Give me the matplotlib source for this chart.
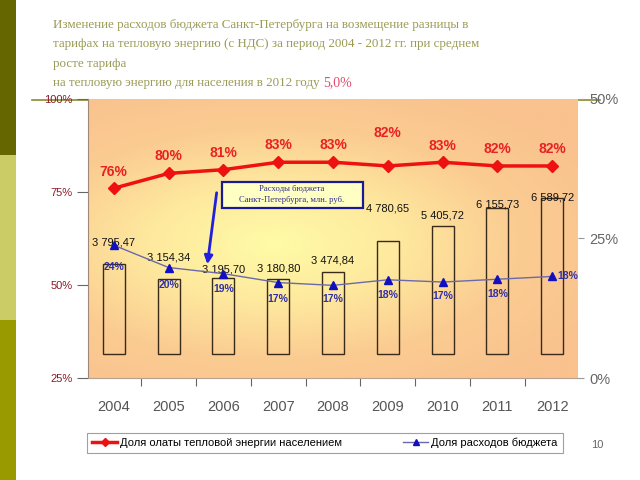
import numpy as np
import matplotlib
matplotlib.use("Agg")
import matplotlib.pyplot as plt
from matplotlib.lines import Line2D
from matplotlib.patches import Rectangle, FancyArrowPatch
from matplotlib.colors import LinearSegmentedColormap

years = ["2004", "2005", "2006", "2007", "2008", "2009", "2010", "2011", "2012"]
budget = [3795.47, 3154.34, 3195.70, 3180.80, 3474.84, 4780.65, 5405.72, 6155.73, 6589.72]
budget_labels = ["3 795,47", "3 154,34", "3 195,70", "3 180,80", "3 474,84",
                 "4 780,65", "5 405,72", "6 155,73", "6 589,72"]
pop_share = [76, 80, 81, 83, 83, 82, 83, 82, 82]
pop_labels = ["76%", "80%", "81%", "83%", "83%", "82%", "83%", "82%", "82%"]
budget_share = [23.8, 19.8, 18.7, 17.1, 16.6, 17.6, 17.2, 17.7, 18.2]
budget_share_labels = ["24%", "20%", "19%", "17%", "17%", "18%", "17%", "18%", "18%"]

left_ticks = [25, 50, 75, 100]
right_ticks = [0, 25, 50]

fig = plt.figure(figsize=(6.4, 4.8), dpi=100)
fig.patch.set_facecolor("white")

# Sidebar
fig.add_artist(Rectangle((0, 1 - 155 / 480), 16 / 640, 155 / 480, transform=fig.transFigure,
                         facecolor="#666600", edgecolor="none", zorder=-2))
fig.add_artist(Rectangle((0, 1 - 320 / 480), 16 / 640, 165 / 480, transform=fig.transFigure,
                         facecolor="#cccc66", edgecolor="none", zorder=-2))
fig.add_artist(Rectangle((0, 0), 16 / 640, 160 / 480, transform=fig.transFigure,
                         facecolor="#999900", edgecolor="none", zorder=-2))
# Slide line
fig.add_artist(Line2D([32 / 640, 600 / 640], [1 - 100 / 480, 1 - 100 / 480], transform=fig.transFigure,
                      color="#8c8c30", lw=1.2, zorder=-1))

# Title
serif = ["Liberation Serif", "DejaVu Serif"]
title_lines = [
    "Изменение расходов бюджета Санкт-Петербурга на возмещение разницы в",
    "тарифах на тепловую энергию (с НДС) за период 2004 - 2012 гг. при среднем",
    "росте тарифа",
]
tfs = 9.4
for i, t in enumerate(title_lines):
    fig.text(53 / 640, 1 - (25 + 19.3 * i) / 480, t, family=serif, fontsize=tfs,
             color="#9a9a55", ha="left", va="center")
t4 = fig.text(53 / 640, 1 - 83 / 480, "на тепловую энергию для населения в 2012 году ", family=serif,
              fontsize=tfs, color="#9a9a55", ha="left", va="center")
fig.canvas.draw()
bb = t4.get_window_extent()
fig.text(bb.x1 / 640, 1 - 83 / 480, "5,0%", family=serif, fontsize=tfs + 0.6, color="#e04a6a",
         ha="left", va="center")

pos = [88 / 640, 1 - 378 / 480, 490 / 640, 279 / 480]
x = np.arange(len(years))

# Background + bars axes
axb = fig.add_axes(pos, zorder=0)
ny, nx = 200, 300
yy, xx = np.mgrid[0:1:ny * 1j, 0:1:nx * 1j]
r = np.sqrt(((xx - 0.38) / 0.75) ** 2 + ((yy - 0.48) / 0.62) ** 2)
r = np.clip(r, 0, 1)
cmap = LinearSegmentedColormap.from_list("bg", ["#fffba6", "#fee99e", "#fbcc92", "#f9c28e"])
axb.imshow(r, cmap=cmap, extent=[0, 1, 0, 1], transform=axb.transAxes, aspect="auto",
           origin="lower", zorder=0, interpolation="bilinear")
axb.bar(x, budget, width=0.4, facecolor="none", edgecolor="#3a2a1a", lw=1.0, zorder=2)
axb.set_xlim(-0.47, 8.47)
axb.set_ylim(-1013, 10767)
axb.axis("off")
bar_offsets = [22, 22, 9, 10, 11, 32, 10, 4, 0]
for i, (v, lab) in enumerate(zip(budget, budget_labels)):
    axb.annotate(lab, (i, v), xytext=(0, bar_offsets[i]), textcoords="offset pixels",
                 ha="center", va="center", fontsize=8, color="#111111",
                 family=["Liberation Sans", "DejaVu Sans"], zorder=3)

# Left axis (red line)
axl = fig.add_axes(pos, zorder=1)
axl.patch.set_alpha(0)
axl.plot(x, pop_share, color="#ee1111", lw=2.5, marker="D", markersize=6,
         markerfacecolor="#ee1111", markeredgecolor="#ee1111", zorder=4,
         label="Доля олаты тепловой энергии населением")
axl.set_xlim(-0.47, 8.47)
axl.set_ylim(25, 100)
axl.set_yticks(left_ticks)
axl.set_yticklabels([f"{t}%" for t in left_ticks], color="#8b1a2a", fontsize=8,
                    family=["Liberation Sans", "DejaVu Sans"])
axl.tick_params(axis="y", direction="out", length=8, color="#666666", pad=3)
axl.set_xticks(x[:-1] + 0.5)
axl.set_xticklabels([])
axl.set_xticks(x, minor=True)
axl.set_xticklabels(years, minor=True, fontsize=10.5, color="#555555",
                    family=["Liberation Sans", "DejaVu Sans"])
axl.tick_params(axis="x", which="major", direction="out", length=6, color="#666666")
axl.tick_params(axis="x", which="minor", length=0, pad=16)
for s in ["top", "right"]:
    axl.spines[s].set_visible(False)
axl.spines["left"].set_color("#a08878")
axl.spines["bottom"].set_color("#b8a090")
red_offsets = [16, 17, 17, 17, 17, 33, 16, 17, 17]
for i, (v, lab) in enumerate(zip(pop_share, pop_labels)):
    axl.annotate(lab, (i, v), xytext=(0, red_offsets[i]), textcoords="offset pixels",
                 ha="center", va="center", fontsize=10, fontweight="bold", color="#e82222",
                 family=["Liberation Sans", "DejaVu Sans"], zorder=5)

# Right axis (blue line)
axr = axl.twinx()
axr.plot(x, budget_share, color="#6a6aaa", lw=1.0, marker="^", markersize=6,
         markerfacecolor="#1010c0", markeredgecolor="#1010c0", zorder=4,
         label="Доля расходов бюджета")
axr.set_ylim(0, 50)
axr.set_yticks(right_ticks)
axr.set_yticklabels([f"{t}%" for t in right_ticks], color="#666666", fontsize=10.5,
                    family=["Liberation Sans", "DejaVu Sans"])
axr.tick_params(axis="y", direction="out", length=4, color="#999999", pad=4)
for s in ["top", "right", "left", "bottom"]:
    axr.spines[s].set_visible(False)
blue_offsets = [(0, -22), (0, -17), (0, -15), (0, -16), (0, -14), (0, -15), (0, -14), (0, -15), (16, 0)]
for i, (v, lab) in enumerate(zip(budget_share, budget_share_labels)):
    dx, dy = blue_offsets[i]
    axr.annotate(lab, (i, v), xytext=(dx, dy), textcoords="offset pixels",
                 ha="center", va="center", fontsize=7.5, fontweight="bold", color="#3030a8",
                 family=["Liberation Sans", "DejaVu Sans"], zorder=5)

# Annotation box and arrow
fig.add_artist(Rectangle((222 / 640, 1 - 208 / 480), 141 / 640, 26 / 480, transform=fig.transFigure,
                         facecolor="#ffffc4", edgecolor="#1a1a99", lw=1.6, zorder=5))
fig.text(292 / 640, 1 - 189 / 480, "Расходы бюджета", family=serif, fontsize=6.2,
         color="#30308a", ha="center", va="center", zorder=6)
fig.text(292 / 640, 1 - 200 / 480, "Санкт-Петербурга, млн. руб.", family=serif, fontsize=6.2,
         color="#30308a", ha="center", va="center", zorder=6)
fig.add_artist(FancyArrowPatch((217 / 640, 1 - 190 / 480), (207 / 640, 1 - 267 / 480),
                               transform=fig.transFigure, arrowstyle="-|>", mutation_scale=12,
                               color="#2020dd", lw=2, zorder=6))

# Legend
l1 = axl.get_legend_handles_labels()[1]
l2 = axr.get_legend_handles_labels()[1]
h1 = [Line2D([], [], color="#ee1111", lw=2.5, marker="D", markersize=4)]
h2 = [Line2D([], [], color="#6a6aaa", lw=1.0, marker="^", markersize=5,
             markerfacecolor="#1010c0", markeredgecolor="#1010c0")]
leg = fig.legend(h1 + h2, l1 + l2, loc="center", ncol=2,
                 bbox_to_anchor=(325 / 640, 1 - 443 / 480), frameon=True, fancybox=False,
                 edgecolor="#888888", handlelength=2.2, handletextpad=0.3,
                 columnspacing=5.5, borderpad=0.45,
                 prop={"family": ["Liberation Sans", "DejaVu Sans"], "size": 8})
leg.get_frame().set_linewidth(0.8)

fig.text(597 / 640, 1 - 445 / 480, "10", fontsize=8, color="#666666", ha="center", va="center",
         family=["Liberation Sans", "DejaVu Sans"])

fig.savefig("out.png", dpi=100)
